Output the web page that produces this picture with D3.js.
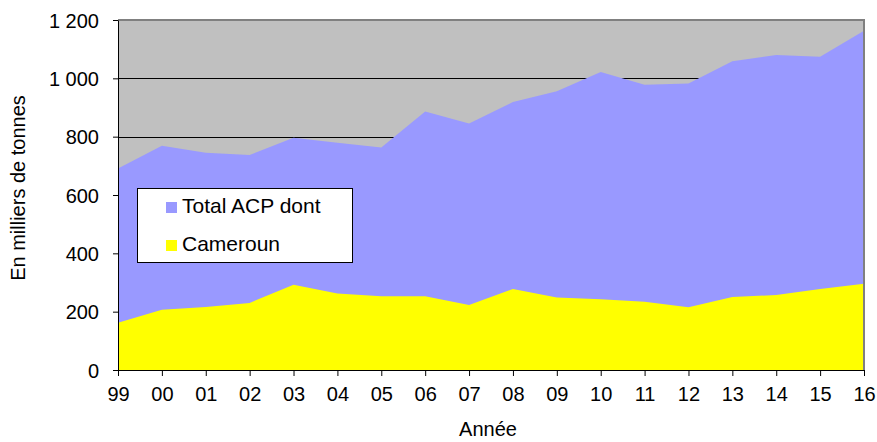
<!DOCTYPE html>
<html>
<head>
    <meta charset="utf-8">
    <style>
        body {
            margin: 0;
            background: #fff;
            font-family: Arial, 'Liberation Sans', sans-serif;
        }

        svg {
            display: block;
        }

        .tick text {
            font-size: 20px;
            fill: #000;
        }

        .tick line {
            stroke: #000;
        }

        .domain {
            stroke: #000;
        }

        .axis-label {
            font-size: 20px;
            fill: #000;
        }

        .legend-text {
            font-size: 21px;
            fill: #000;
        }
    </style>
</head>
<body>
    <svg width="877" height="442"></svg>

    <script src="https://d3js.org/d3.v7.min.js"></script>
    <script>
        // years shown on x axis
        let years = ["99", "00", "01", "02", "03", "04", "05", "06", "07", "08",
            "09", "10", "11", "12", "13", "14", "15", "16"]

        // en milliers de tonnes
        let totalACP = [691, 769, 745, 737, 796, 779, 763, 886, 845, 919,
            956, 1022, 978, 982, 1059, 1080, 1074, 1163]
        let cameroun = [162, 207, 216, 230, 292, 262, 253, 253, 223, 278,
            249, 243, 234, 215, 250, 257, 278, 296]

        let yTicks = [0, 200, 400, 600, 800, 1000, 1200]
        let seriesNames = ["Total ACP dont", "Cameroun"]
        let seriesColors = ["#9999FF", "#FFFF00"]

        let margin = { top: 20, right: 13, bottom: 72, left: 118 }
        let width = 877
        let height = 442

        let svg = d3.select("svg")

        let x = d3.scalePoint()
            .domain(years)
            .range([margin.left, width - margin.right])
            .padding(0)

        let y = d3.scaleLinear()
            .domain([0, 1200])
            .range([height - margin.bottom, margin.top])

        // plot background
        svg.append("rect")
            .attr("x", margin.left)
            .attr("y", margin.top)
            .attr("width", x.range()[1] - margin.left)
            .attr("height", y(0) - margin.top)
            .attr("fill", "#C0C0C0")

        // gridlines
        svg.append("g")
            .selectAll("line")
            .data(yTicks.filter(d => d > 0 && d < 1200))
            .join("line")
            .attr("x1", margin.left)
            .attr("x2", x.range()[1])
            .attr("y1", d => Math.round(y(d)) + 0.5)
            .attr("y2", d => Math.round(y(d)) + 0.5)
            .attr("stroke", "#000")
            .attr("stroke-width", 1)

        let data = years.map((yr, i) => ({ yr: yr, total: totalACP[i], cam: cameroun[i] }))

        let areaTotal = d3.area()
            .x(d => x(d.yr))
            .y0(y(0))
            .y1(d => y(d.total))

        let areaCam = d3.area()
            .x(d => x(d.yr))
            .y0(y(0))
            .y1(d => y(d.cam))

        svg.append("path")
            .datum(data)
            .attr("fill", seriesColors[0])
            .attr("d", areaTotal)

        svg.append("path")
            .datum(data)
            .attr("fill", seriesColors[1])
            .attr("d", areaCam)

        // top and right border (grey)
        svg.append("path")
            .attr("d", `M${margin.left},${margin.top} H${x.range()[1]} V${y(0)}`)
            .attr("fill", "none")
            .attr("stroke", "#808080")
            .attr("stroke-width", 2)

        // axes
        let xAxis = svg.append("g")
            .attr("class", "x axis")
            .attr("transform", `translate(0,${y(0)})`)
            .call(d3.axisBottom(x).tickSize(6).tickPadding(7).tickSizeOuter(0))
        xAxis.selectAll(".tick text").attr("dy", "0.9em")

        let yAxis = svg.append("g")
            .attr("class", "y axis")
            .attr("transform", `translate(${margin.left},0)`)
            .call(d3.axisLeft(y)
                .tickValues(yTicks)
                .tickSize(5)
                .tickPadding(14)
                .tickSizeOuter(0)
                .tickFormat(d => d3.format(",")(d).replace(",", " ")))
        yAxis.selectAll(".tick text").attr("dy", "0.36em")

        // axis titles
        svg.append("text")
            .attr("class", "axis-label")
            .attr("transform", `translate(25,${(margin.top + y(0)) / 2 - 7}) rotate(-90)`)
            .attr("text-anchor", "middle")
            .text("En milliers de tonnes")

        svg.append("text")
            .attr("class", "axis-label")
            .attr("x", (margin.left + x.range()[1]) / 2 - 3)
            .attr("y", 436)
            .attr("text-anchor", "middle")
            .text("Année")

        // legend
        let legend = svg.append("g")
        legend.append("rect")
            .attr("x", 137.5)
            .attr("y", 188.5)
            .attr("width", 215)
            .attr("height", 74)
            .attr("fill", "#fff")
            .attr("stroke", "#000")
            .attr("stroke-width", 1)

        let items = legend.selectAll(".item")
            .data(seriesNames)
            .join("g")
            .attr("class", "item")
            .attr("transform", (d, i) => `translate(166,${202 + i * 38})`)

        items.append("rect")
            .attr("width", 11)
            .attr("height", 11)
            .attr("fill", (d, i) => seriesColors[i])

        items.append("text")
            .attr("class", "legend-text")
            .attr("x", 16)
            .attr("y", 11)
            .text(d => d)
    </script>
</body>
</html>
